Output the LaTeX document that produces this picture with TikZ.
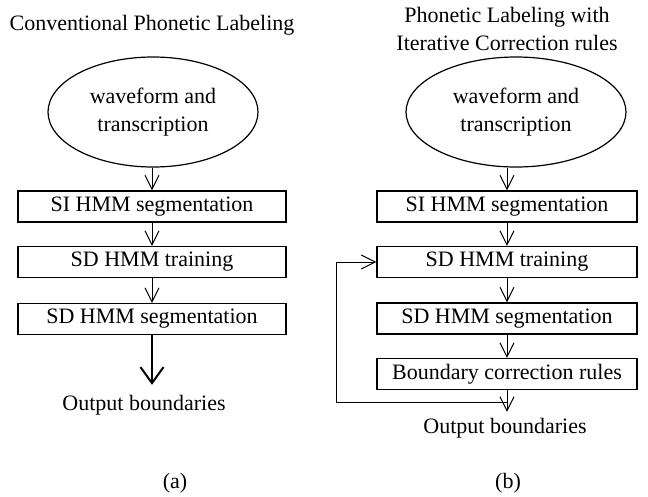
\documentclass[tikz,border=0pt]{standalone}
\usepackage{fontspec}
\setmainfont{Liberation Serif}
\usetikzlibrary{shapes.geometric,arrows.meta}
\begin{document}
\begin{tikzpicture}[x=1pt,y=-1pt,
  every node/.style={font=\fontsize{22}{28}\selectfont},
  stagebox/.style={draw,line width=1.2pt,rectangle,minimum height=31pt,inner sep=0pt},
  inputblob/.style={draw,line width=1.2pt,ellipse,inner sep=0pt,minimum height=110pt,align=center},
  flow/.style={line width=1pt,-{Straight Barb[length=14pt,width=14pt,line width=1pt]}},
  bigflow/.style={line width=2pt,-{Straight Barb[length=16pt,width=23pt,line width=2pt]}},
  caption/.style={align=center,inner sep=0pt}]
\useasboundingbox (0,0) rectangle (648,496);

% (a) conventional labeling
\node[caption] (ta) at (152,25) {Conventional Phonetic Labeling};
\node[inputblob,minimum width=210pt] (ea) at (153,112) {waveform and\\transcription};
\node[stagebox,minimum width=268pt] (a1) at (152,206.5) {SI HMM segmentation};
\node[stagebox,minimum width=268pt] (a2) at (152,262) {SD HMM training};
\node[stagebox,minimum width=268pt] (a3) at (152,319) {SD HMM segmentation};
\node[inner xsep=0pt,inner ysep=10pt] (oa) at (144,405) {Output boundaries};
\node[caption] (la) at (175,483) {(a)};

\draw[flow] (ea.south -| a1.north) -- (a1.north);
\draw[flow] (a1) -- (a2);
\draw[flow] (a2) -- (a3);
\draw[bigflow] (a3.south) -- (a3.south |- oa.north);

% (b) labeling with iterative correction rules
\node[caption] (tb) at (507,29) {Phonetic Labeling with\\Iterative Correction rules};
\node[inputblob,minimum width=220pt] (eb) at (516,112) {waveform and\\transcription};
\node[stagebox,minimum width=260pt] (b1) at (507,206.5) {SI HMM segmentation};
\node[stagebox,minimum width=260pt] (b2) at (507,262) {SD HMM training};
\node[stagebox,minimum width=260pt] (b3) at (507,318.5) {SD HMM segmentation};
\node[stagebox,minimum width=260pt] (b4) at (507,374) {Boundary correction rules};
\node[inner xsep=0pt,inner ysep=6pt] (ob) at (505,428) {Output boundaries};
\node[caption] (lb) at (508,483) {(b)};

% feedback loop leaves the output arrow and re-enters SD HMM training
\coordinate (split) at ([yshift=-12pt]b4.south);
\coordinate (back) at (336,401);

\draw[flow] (eb.south -| b1.north) -- (b1.north);
\draw[flow] (b1) -- (b2);
\draw[flow] (b2) -- (b3);
\draw[flow] (b3) -- (b4);
\draw[flow] (b4.south) -- (b4.south |- ob.north);
\draw[flow] (split) -- (split -| back) |- (b2.west);
\end{tikzpicture}
\end{document}
